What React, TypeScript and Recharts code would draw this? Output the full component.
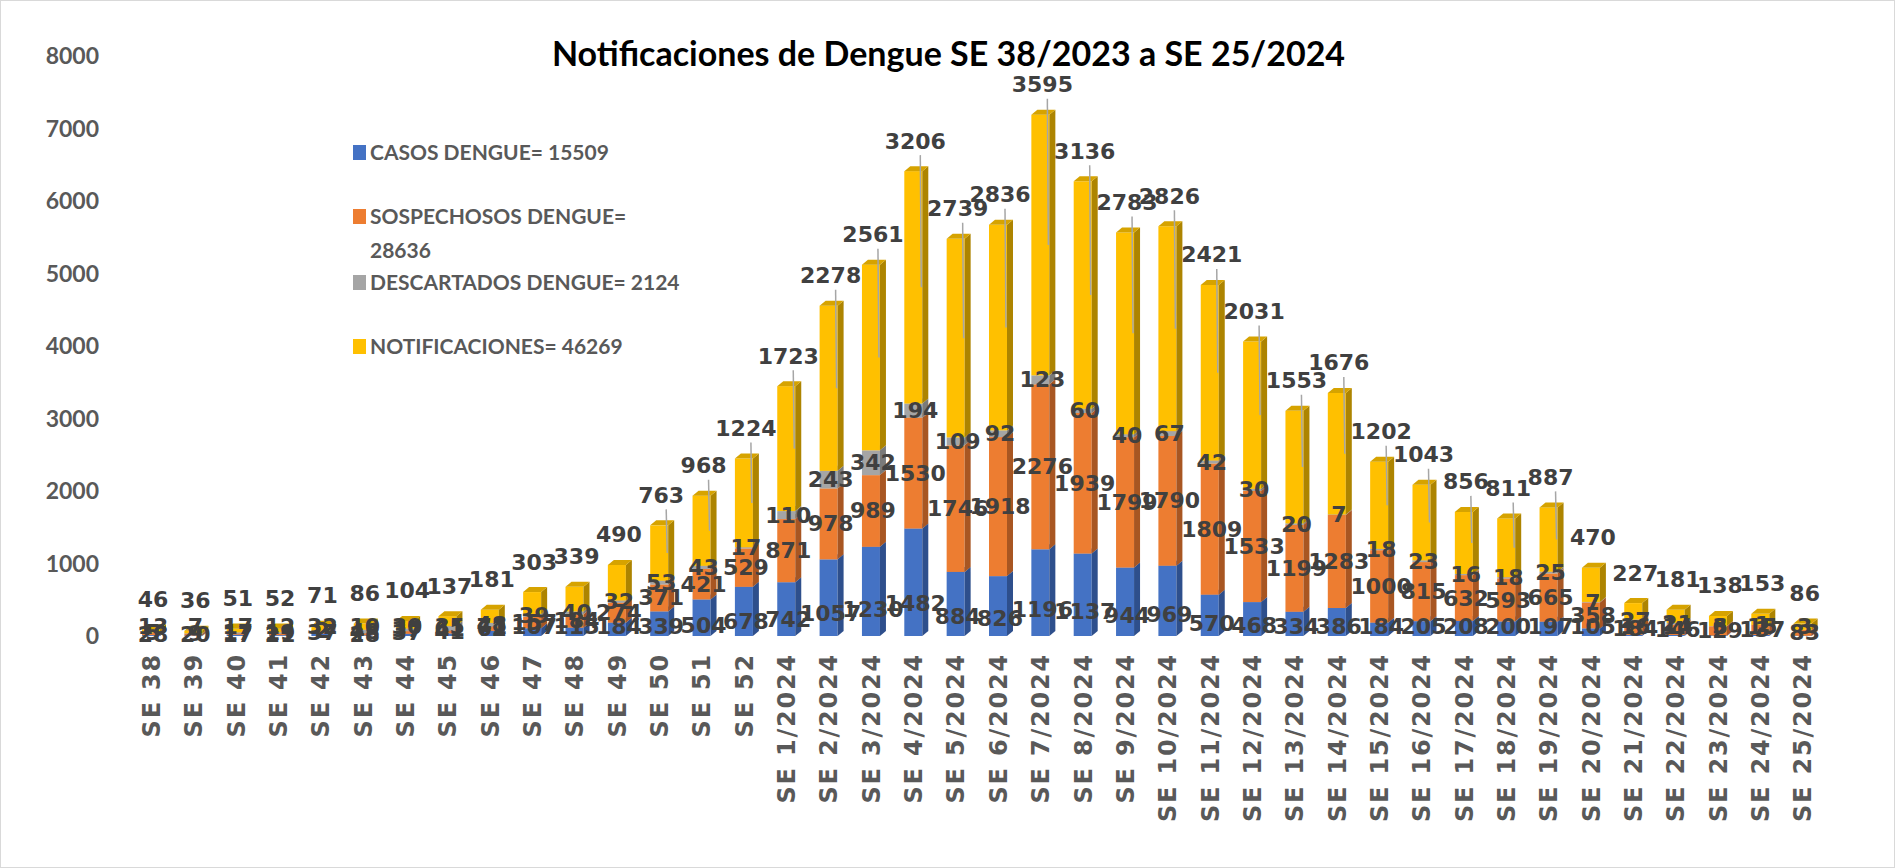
import React from 'react';
import { BarChart, Bar, XAxis, YAxis, LabelList, Legend } from 'recharts';

const weeks = [
  'SE 38', 'SE 39', 'SE 40', 'SE 41', 'SE 42', 'SE 43', 'SE 44', 'SE 45', 'SE 46', 'SE 47',
  'SE 48', 'SE 49', 'SE 50', 'SE 51', 'SE 52',
  'SE 1/2024', 'SE 2/2024', 'SE 3/2024', 'SE 4/2024', 'SE 5/2024', 'SE 6/2024', 'SE 7/2024',
  'SE 8/2024', 'SE 9/2024', 'SE 10/2024', 'SE 11/2024', 'SE 12/2024', 'SE 13/2024', 'SE 14/2024',
  'SE 15/2024', 'SE 16/2024', 'SE 17/2024', 'SE 18/2024', 'SE 19/2024', 'SE 20/2024', 'SE 21/2024',
  'SE 22/2024', 'SE 23/2024', 'SE 24/2024', 'SE 25/2024',
];

const casos = [
  13, 7, 17, 12, 32, 10, 30, 35, 71, 107, 115, 184, 339, 504, 678,
  742, 1057, 1230, 1482, 884, 826, 1196, 1137, 944, 969, 570, 468, 334, 386,
  184, 205, 208, 200, 197, 105, 16, 14, 6, 15, 3,
];

const sospechosos = [
  28, 20, 17, 21, 37, 28, 37, 41, 62, 157, 184, 274, 371, 421, 529,
  871, 978, 989, 1530, 1746, 1918, 2276, 1939, 1799, 1790, 1809, 1533, 1199, 1283,
  1000, 815, 632, 593, 665, 358, 184, 146, 129, 137, 83,
];

const descartados = [
  5, 9, 17, 19, 2, 48, 37, 61, 48, 39, 40, 32, 53, 43, 17,
  110, 243, 342, 194, 109, 92, 123, 60, 40, 67, 42, 30, 20, 7,
  18, 23, 16, 18, 25, 7, 27, 21, 3, 1, 0,
];

const notificaciones = [
  46, 36, 51, 52, 71, 86, 104, 137, 181, 303, 339, 490, 763, 968, 1224,
  1723, 2278, 2561, 3206, 2739, 2836, 3595, 3136, 2783, 2826, 2421, 2031, 1553, 1676,
  1202, 1043, 856, 811, 887, 470, 227, 181, 138, 153, 86,
];

const yTicks = [0, 1000, 2000, 3000, 4000, 5000, 6000, 7000, 8000];

const seriesNames = [
  'CASOS DENGUE= 15509',
  'SOSPECHOSOS DENGUE=\n28636',
  'DESCARTADOS DENGUE= 2124',
  'NOTIFICACIONES= 46269',
];

const TITLE = 'Notificaciones de Dengue SE 38/2023 a SE 25/2024';

const data = weeks.map((week, i) => ({
  week,
  casos: casos[i],
  sospechosos: sospechosos[i],
  descartados: descartados[i],
  notificaciones: notificaciones[i],
}));

const W = 1895;
const H = 868;
const DX = 6;
const DY = 5;

const LABEL_FONT = '"DejaVu Sans", Verdana, sans-serif';
const CALIBRI = 'Lato, Carlito, Calibri, sans-serif';

function make3D(front: string, side: string, top: string) {
  return (p: any) => {
    const { x, y, width, height } = p;
    if (!height || height <= 0) return <g />;
    return (
      <g>
        <rect x={x} y={y} width={width} height={height} fill={front} />
        <polygon
          points={`${x + width},${y} ${x + width + DX},${y - DY} ${x + width + DX},${y + height - DY} ${x + width},${y + height}`}
          fill={side}
        />
        <polygon
          points={`${x},${y} ${x + DX},${y - DY} ${x + width + DX},${y - DY} ${x + width},${y}`}
          fill={top}
        />
      </g>
    );
  };
}

const labelStyle = {
  fontFamily: LABEL_FONT,
  fontWeight: 700,
  fontSize: 22,
  fill: '#404040',
};

const renderAllLabels = (p: any) => {
  const vb = p.viewBox || p;
  const x = Number(vb.x ?? p.x);
  const y = Number(vb.y ?? p.y);
  const width = Number(vb.width ?? p.width);
  const height = Number(vb.height ?? p.height);
  const i = p.index;
  const n = notificaciones[i];
  if (!n || !height || isNaN(x)) return null;
  const ppu = height / n;
  const hB = casos[i] * ppu;
  const hO = sospechosos[i] * ppu;
  const hG = descartados[i] * ppu;
  const base = y + height + hB + hO + hG;
  const cx = x + width / 2 + 2;
  const yB = base - Math.max(hB * 0.3, 10);
  const yO = base - hB - hO / 2;
  const yG = base - hB - hO - hG / 2;
  const yN = y - DY - 25;
  return (
    <g>
      {n >= 700 && (
        <line x1={x + width - 2} y1={yN + 14} x2={x + width - 1} y2={y + height / 2} stroke="#A6A6A6" strokeWidth={1.5} />
      )}
      {casos[i] > 0 && (
        <text x={cx} y={yB} textAnchor="middle" dominantBaseline="central" {...labelStyle}>{casos[i]}</text>
      )}
      {sospechosos[i] > 0 && (
        <text x={cx} y={yO} textAnchor="middle" dominantBaseline="central" {...labelStyle}>{sospechosos[i]}</text>
      )}
      {descartados[i] > 0 && (
        <text x={cx} y={yG} textAnchor="middle" dominantBaseline="central" {...labelStyle}>{descartados[i]}</text>
      )}
      <text x={cx} y={yN} textAnchor="middle" dominantBaseline="central" {...labelStyle}>{n}</text>
    </g>
  );
};

const XTick = (p: any) => {
  const { x, y, payload } = p;
  return (
    <g transform={`translate(${x},${y + 17})`}>
      <text
        transform="rotate(-90)"
        textAnchor="end"
        dy="0.36em"
        fontFamily={LABEL_FONT}
        fontWeight={700}
        fontSize={24}
        letterSpacing={1.8}
        fill="#595959"
      >
        {payload.value}
      </text>
    </g>
  );
};

const legendTops = [0, 64, 130, 194];

const renderLegend = (p: any) => {
  const payload = [...(p.payload || [])].sort(
    (a: any, b: any) => seriesNames.indexOf(a.value) - seriesNames.indexOf(b.value)
  );
  return (
    <div style={{ position: 'relative', width: 420, height: 240 }}>
      {payload.map((e: any, i: number) => (
        <div
          key={i}
          style={{
            position: 'absolute',
            left: 0,
            top: legendTops[i] ?? i * 64,
            display: 'flex',
            alignItems: 'flex-start',
            fontFamily: CALIBRI,
            fontWeight: 700,
            fontSize: 21,
            lineHeight: '34px',
            color: '#595959',
            whiteSpace: 'pre-line',
          }}
        >
          <span style={{ display: 'inline-block', width: 13, height: 15, background: e.color, marginTop: 10, marginRight: 4 }} />
          <span>{e.value}</span>
        </div>
      ))}
    </div>
  );
};

export default function App() {
  return (
    <div
      style={{
        position: 'absolute',
        left: 0,
        top: 0,
        width: W,
        height: H,
        background: '#ffffff',
        boxSizing: 'border-box',
        border: '1px solid #D9D9D9',
        overflow: 'hidden',
      }}
    >
      <div
        style={{
          position: 'absolute',
          left: 0,
          top: 32,
          width: W,
          textAlign: 'center',
          fontFamily: CALIBRI,
          fontWeight: 700,
          fontSize: 34,
          lineHeight: '40px',
          color: '#000000',
        }}
      >
        {TITLE}
      </div>
      <div style={{ position: 'absolute', left: -1, top: -1 }}>
        <BarChart
          width={W}
          height={H}
          data={data}
          margin={{ top: 56, right: 71, bottom: 0, left: 0 }}
          barSize={18}
        >
          <XAxis
            dataKey="week"
            interval={0}
            height={232}
            axisLine={false}
            tickLine={false}
            tickSize={0}
            tickMargin={0}
            tick={<XTick />}
          />
          <YAxis
            width={130}
            domain={[0, 8000]}
            ticks={yTicks}
            axisLine={false}
            tickLine={false}
            tickSize={0}
            tickMargin={31}
            tick={{ fill: '#595959', fontSize: 23, fontFamily: CALIBRI, fontWeight: 700 }}
          />
          <Legend
            layout="vertical"
            align="center"
            verticalAlign="middle"
            itemSorter={null as any}
            content={renderLegend}
            wrapperStyle={{ left: 353, top: 135, width: 420, height: 240 }}
          />
          <Bar
            dataKey="casos"
            name={seriesNames[0]}
            stackId="a"
            fill="#4472C4"
            shape={make3D('#4472C4', '#2E4F8C', '#5A85D0')}
            isAnimationActive={false}
          />
          <Bar
            dataKey="sospechosos"
            name={seriesNames[1]}
            stackId="a"
            fill="#ED7D31"
            shape={make3D('#ED7D31', '#A85622', '#F29A5C')}
            isAnimationActive={false}
          />
          <Bar
            dataKey="descartados"
            name={seriesNames[2]}
            stackId="a"
            fill="#A5A5A5"
            shape={make3D('#A5A5A5', '#7A7A7A', '#BDBDBD')}
            isAnimationActive={false}
          />
          <Bar
            dataKey="notificaciones"
            name={seriesNames[3]}
            stackId="a"
            fill="#FFC000"
            shape={make3D('#FFC000', '#AD8400', '#D6A300')}
            isAnimationActive={false}
          >
            <LabelList dataKey="notificaciones" content={renderAllLabels} />
          </Bar>
        </BarChart>
      </div>
    </div>
  );
}
